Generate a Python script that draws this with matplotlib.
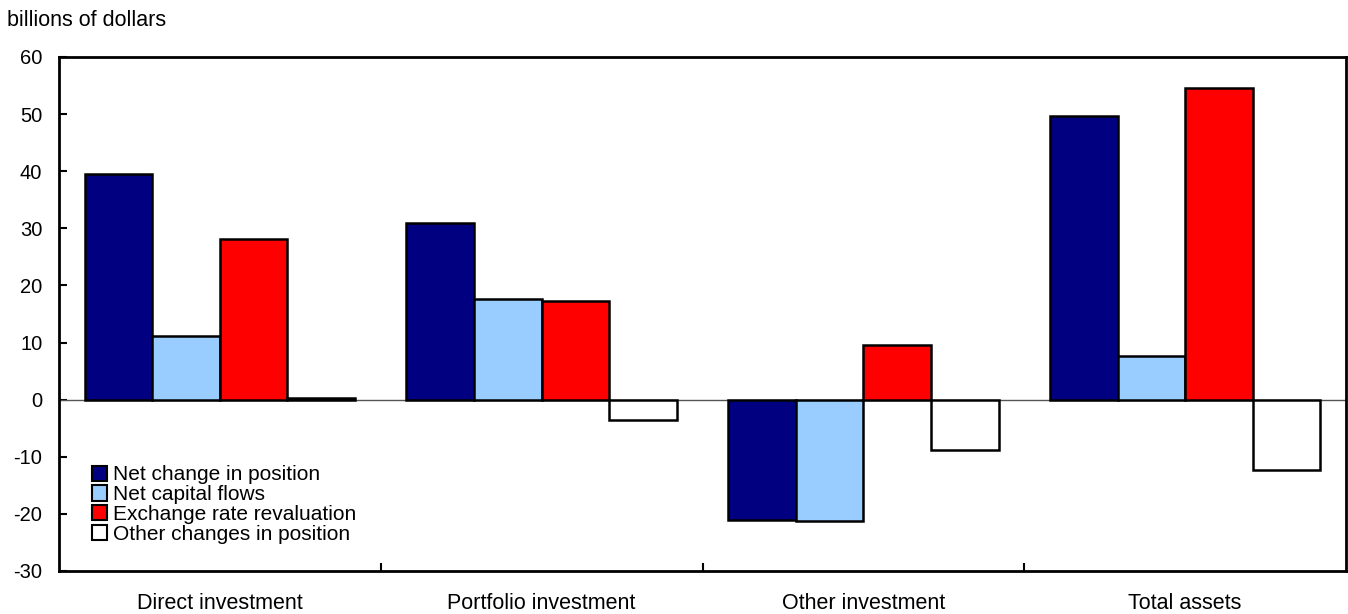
import matplotlib
matplotlib.use("Agg")
import matplotlib.pyplot as plt
import numpy as np
from matplotlib.patches import Patch

plt.rcParams['font.family'] = ['Liberation Sans', 'DejaVu Sans']

categories = ["Direct investment", "Portfolio investment", "Other investment", "Total assets"]
series_names = ["Net change in position", "Net capital flows", "Exchange rate revaluation", "Other changes in position"]
net_change = [39.6, 31.0, -21.0, 49.6]
capital_flows = [11.2, 17.7, -21.3, 7.6]
exchange_reval = [28.2, 17.2, 9.5, 54.5]
other_changes = [0.3, -3.5, -8.9, -12.3]
colors = ["#000080", "#99ccff", "#ff0000", "#ffffff"]
yticks = [-30, -20, -10, 0, 10, 20, 30, 40, 50, 60]

fig = plt.figure(figsize=(13.48, 6.14), dpi=100)
ax = fig.add_axes([59/1348, 1 - 571/614, (1346-59)/1348, (571-57)/614])

x = np.arange(len(categories))
w = 0.21
series = [net_change, capital_flows, exchange_reval, other_changes]
for i, (vals, c) in enumerate(zip(series, colors)):
    ax.bar(x + (i - 1.5) * w, vals, width=w, color=c, edgecolor="black", linewidth=1.8, zorder=3)

ax.axhline(0, color="#555555", linewidth=1.0, zorder=2)
ax.set_xlim(-0.5, 3.5)
ax.set_ylim(-30, 60)
ax.set_yticks(yticks)
ax.set_yticklabels([str(t) for t in yticks], fontsize=14.5)
ax.tick_params(axis='y', direction='in', length=6, width=1.5, pad=12)
ax.set_xticks([0.5, 1.5, 2.5])
ax.set_xticklabels([])
ax.tick_params(axis='x', direction='in', length=6, width=1.5)
for s in ax.spines.values():
    s.set_linewidth(2)
for xi, lab in zip(x, categories):
    ax.text(xi, -0.063, lab, transform=ax.get_xaxis_transform(), ha='center', va='center', fontsize=15.5)

fig.text(7/1348, 1 - 20/614, "billions of dollars", fontsize=15.5, ha='left', va='center')

handles = [Patch(facecolor=c, edgecolor='black', linewidth=1.5) for c in colors]
leg = ax.legend(handles, series_names, loc='lower left', bbox_to_anchor=(0.019, 0.037), frameon=False,
                fontsize=15, handlelength=0.75, handleheight=0.75, handletextpad=0.25, labelspacing=0.035,
                borderaxespad=0)

fig.savefig("out.png", dpi=100)
